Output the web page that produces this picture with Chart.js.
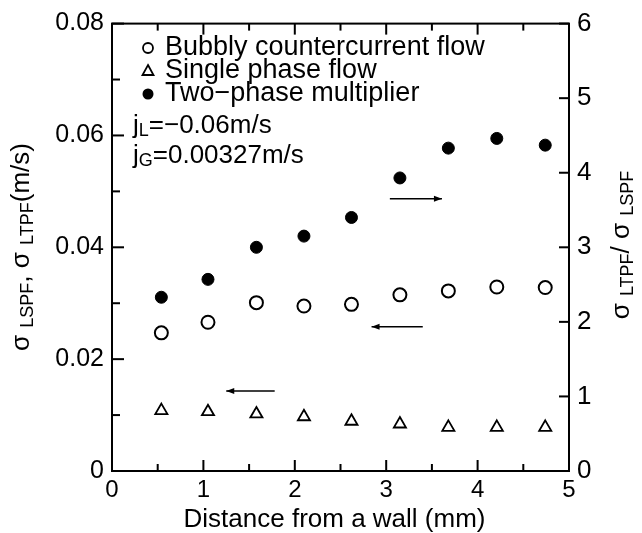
<!DOCTYPE html>
<html>
<head>
<meta charset="utf-8">
<script src="https://cdn.jsdelivr.net/npm/chart.js@4.4.1/dist/chart.umd.min.js"></script>
<style>
  html, body { margin: 0; padding: 0; background: #fff; }
  #wrap { width: 642px; height: 533px; }
</style>
</head>
<body>
<div id="wrap"><canvas id="chart" width="642" height="533"></canvas></div>
<script>
// ── data ──
const distance   = [0.54, 1.05, 1.58, 2.10, 2.62, 3.15, 3.68, 4.21, 4.74];       // mm
const bubbly     = [0.0247, 0.0266, 0.0301, 0.0295, 0.0298, 0.0315, 0.0322, 0.0329, 0.0328]; // m/s
const singlePh   = [0.0108, 0.0106, 0.0102, 0.0097, 0.0089, 0.0084, 0.0078, 0.0078, 0.0078]; // m/s
const multiplier = [2.33, 2.57, 3.00, 3.15, 3.40, 3.93, 4.33, 4.46, 4.37];          // ratio

const xTicks  = [0, 1, 2, 3, 4, 5];
const yTicks  = [0, 0.02, 0.04, 0.06, 0.08];
const y2Ticks = [0, 1, 2, 3, 4, 5, 6];
const xMinor  = [0, 0.5, 1, 1.5, 2, 2.5, 3, 3.5, 4, 4.5, 5];
const yMinor  = [0, 0.01, 0.02, 0.03, 0.04, 0.05, 0.06, 0.07, 0.08];

// arrows telling which axis a series belongs to (data coords)
const arrows = [
  { from: 3.04, to: 3.61, at: 3.65,   axis: 'y1' },
  { from: 3.40, to: 2.84, at: 0.0258, axis: 'y'  },
  { from: 1.78, to: 1.25, at: 0.0143, axis: 'y'  }
];

const FONT = '"Liberation Sans", Arial, Helvetica, sans-serif';
const pts = (ys) => distance.map((x, i) => ({ x: x, y: ys[i] }));

// centred line of mixed-size runs [text, size, dy], optionally rotated
function drawRuns(ctx, runs, cx, cy, rot) {
  ctx.save();
  ctx.textBaseline = 'middle';
  ctx.textAlign = 'left';
  let total = 0;
  runs.forEach(r => { ctx.font = r[1] + 'px ' + FONT; total += ctx.measureText(r[0]).width; });
  ctx.translate(cx, cy);
  if (rot) ctx.rotate(rot);
  let x = -total / 2;
  runs.forEach(r => {
    ctx.font = r[1] + 'px ' + FONT;
    ctx.fillText(r[0], x, r[2]);
    x += ctx.measureText(r[0]).width;
  });
  ctx.restore();
}

function runsLeft(ctx, runs, x, y) {
  ctx.save();
  ctx.textBaseline = 'middle';
  ctx.textAlign = 'left';
  runs.forEach(r => {
    ctx.font = r[1] + 'px ' + FONT;
    ctx.fillText(r[0], x, y + r[2]);
    x += ctx.measureText(r[0]).width;
  });
  ctx.restore();
}

const decor = {
  id: 'decor',
  afterDraw(chart) {
    const { ctx, chartArea: a, scales } = chart;
    const sx = scales.x, sy = scales.y, sy2 = scales.y1;
    ctx.save();
    ctx.strokeStyle = '#000';
    ctx.fillStyle = '#000';

    // frame
    ctx.lineWidth = 2;
    ctx.strokeRect(a.left, a.top, a.right - a.left, a.bottom - a.top);

    // inward ticks
    xMinor.forEach(v => {
      const px = sx.getPixelForValue(v);
      const len = Number.isInteger(v) ? 11 : 7;
      ctx.fillRect(px - 1, a.bottom - len, 2, len);
      ctx.fillRect(px - 1, a.top, 2, len);
    });
    yMinor.forEach((v, i) => {
      const py = sy.getPixelForValue(v);
      const len = i % 2 === 0 ? 12 : 8;
      ctx.fillRect(a.left, py - 1, len, 2);
    });
    y2Ticks.forEach(v => {
      const py = sy2.getPixelForValue(v);
      ctx.fillRect(a.right - 10, py - 1, 10, 2);
    });

    // arrows
    ctx.lineWidth = 1.5;
    arrows.forEach(ar => {
      const s = scales[ar.axis];
      const y = s.getPixelForValue(ar.at);
      const x0 = sx.getPixelForValue(ar.from), x1 = sx.getPixelForValue(ar.to);
      const d = Math.sign(x1 - x0);
      ctx.beginPath();
      ctx.moveTo(x0, y); ctx.lineTo(x1, y);
      ctx.stroke();
      ctx.beginPath();
      ctx.moveTo(x1, y);
      ctx.lineTo(x1 - d * 8, y - 3);
      ctx.lineTo(x1 - d * 8, y + 3);
      ctx.closePath();
      ctx.fill();
    });

    // legend
    const lx = 148, tx = 165;
    ctx.lineWidth = 1.8;
    ctx.beginPath(); ctx.arc(lx, 48, 5, 0, Math.PI * 2); ctx.stroke();
    ctx.beginPath();
    ctx.moveTo(lx, 65); ctx.lineTo(lx + 5.5, 75); ctx.lineTo(lx - 5.5, 75); ctx.closePath(); ctx.stroke();
    ctx.beginPath(); ctx.arc(lx, 94, 5.5, 0, Math.PI * 2); ctx.fill();
    ctx.font = '27px ' + FONT;
    ctx.textBaseline = 'middle';
    ctx.textAlign = 'left';
    ctx.fillText('Bubbly countercurrent flow', tx, 48);
    ctx.fillText('Single phase flow', tx, 71);
    ctx.fillText('Two\u2212phase multiplier', tx, 94);
    runsLeft(ctx, [['j', 26, 0], ['L', 18, 5], ['=\u22120.06m/s', 26, 0]], 133, 126);
    runsLeft(ctx, [['j', 26, 0], ['G', 18, 5], ['=0.00327m/s', 26, 0]], 133, 156);

    // axis titles
    drawRuns(ctx, [['Distance from a wall (mm)', 26, 0]], (a.left + a.right) / 2 - 6, 520, 0);
    drawRuns(ctx, [['\u03c3 ', 26, 0], ['LSPF', 18, 6], [', \u03c3 ', 26, 0], ['LTPF', 18, 6], ['(m/s)', 26, 0]],
             22, 247, -Math.PI / 2);
    drawRuns(ctx, [['\u03c3 ', 26, 0], ['LTPF', 18, 6], ['/ \u03c3 ', 26, 0], ['LSPF', 18, 6]],
             622, 245, -Math.PI / 2);
    ctx.restore();
  }
};

Chart.defaults.font.family = FONT;
Chart.defaults.color = '#000';

new Chart(document.getElementById('chart').getContext('2d'), {
  type: 'scatter',
  data: {
    datasets: [
      { label: 'Bubbly countercurrent flow', data: pts(bubbly), yAxisID: 'y',
        pointStyle: 'circle', pointRadius: 6.5, borderWidth: 2,
        borderColor: '#000', backgroundColor: 'rgba(255,255,255,0)' },
      { label: 'Single phase flow', data: pts(singlePh), yAxisID: 'y',
        pointStyle: 'triangle', pointRadius: 7, borderWidth: 1.8,
        borderColor: '#000', backgroundColor: 'rgba(255,255,255,0)' },
      { label: 'Two-phase multiplier', data: pts(multiplier), yAxisID: 'y1',
        pointStyle: 'circle', pointRadius: 6, borderWidth: 1,
        borderColor: '#000', backgroundColor: '#000' }
    ]
  },
  options: {
    responsive: false,
    animation: false,
    layout: { padding: { top: 15, left: 0, right: 0, bottom: 0 } },
    plugins: { legend: { display: false }, tooltip: { enabled: false } },
    scales: {
      x: {
        type: 'linear', min: 0, max: 5,
        afterFit: s => { s.height = 62; },
        afterBuildTicks: s => { s.ticks = xTicks.map(v => ({ value: v })); },
        grid: { display: false, drawTicks: false }, border: { display: false },
        ticks: { font: { size: 24 }, color: '#000', padding: 5 }
      },
      y: {
        type: 'linear', position: 'left', min: 0, max: 0.08,
        afterFit: s => { s.width = 112; },
        afterBuildTicks: s => { s.ticks = yTicks.map(v => ({ value: v })); },
        grid: { display: false, drawTicks: false }, border: { display: false },
        ticks: { font: { size: 25 }, color: '#000', padding: 8,
                 callback: v => v === 0 ? '0' : v.toFixed(2) }
      },
      y1: {
        type: 'linear', position: 'right', min: 0, max: 6,
        afterFit: s => { s.width = 73; },
        afterBuildTicks: s => { s.ticks = y2Ticks.map(v => ({ value: v })); },
        grid: { display: false, drawTicks: false }, border: { display: false },
        ticks: { font: { size: 26 }, color: '#000', padding: 8 }
      }
    }
  },
  plugins: [decor]
});
</script>
</body>
</html>
